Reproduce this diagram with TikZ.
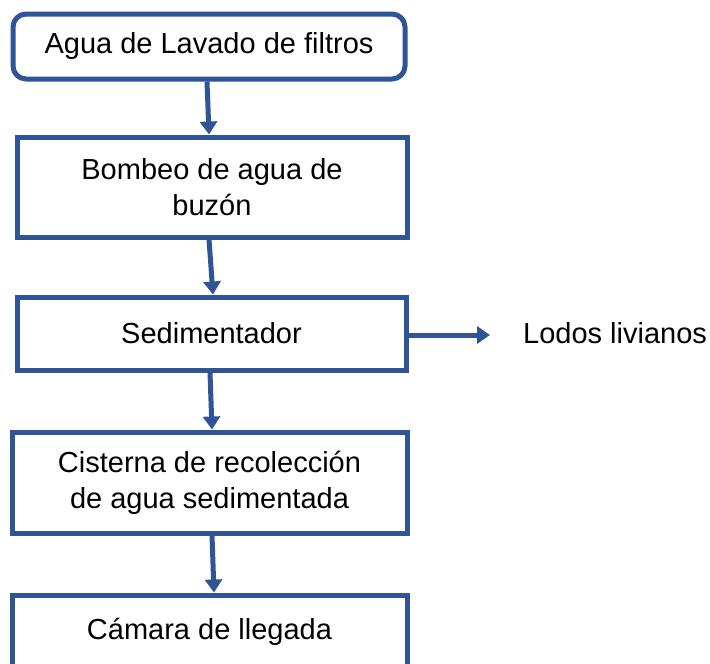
\documentclass[tikz,border=0pt]{standalone}
\usepackage{fontspec}
\setmainfont{Liberation Sans}
\usetikzlibrary{arrows.meta}
\definecolor{boxblue}{RGB}{47,85,151}
\begin{document}
\begin{tikzpicture}[x=1pt,y=-1pt,
  box/.style={draw=boxblue, line width=5pt, fill=white, minimum width=#1, align=center,
    font=\fontsize{29}{36}\selectfont, inner sep=0pt},
  arr/.style={draw=boxblue, line width=5pt, -{Triangle[width=17pt,length=13pt]}},
  lbl/.style={font=\fontsize{29}{36}\selectfont, inner sep=0pt}]
\clip (0,0) rectangle (710,664);
\fill[white] (0,0) rectangle (710,664);
\node[box=392pt, minimum height=65pt, rounded corners=13pt] (b1) at (209,46.5) {Agua de Lavado de filtros};
\node[box=390pt, minimum height=100pt] (b2) at (212,187) {Bombeo de agua de\\buzón};
\node[box=389pt, minimum height=73pt] (b3) at (211.5,333.5) {Sedimentador};
\node[box=395pt, minimum height=101pt] (b4) at (209.5,482.5) {Cisterna de recolección\\de agua sedimentada};
\node[box=395pt, minimum height=74pt] (b5) at (209.5,632) {Cámara de llegada};
\node[lbl, anchor=west] (lodos) at (523,333) {Lodos livianos};
\coordinate (lend) at (490,335);
\draw[arr] ([xshift=-2pt]b1.south) -- ([xshift=-3pt]b2.north);
\draw[arr] ([xshift=-3pt]b2.south) -- ([xshift=1.5pt]b3.north);
\draw[arr] ([xshift=-1.5pt]b3.south) -- ([xshift=2.5pt]b4.north);
\draw[arr] ([xshift=2.5pt]b4.south) -- ([xshift=4.5pt]b5.north);
\draw[arr] (b3.east |- lend) -- (lend);
\end{tikzpicture}
\end{document}
